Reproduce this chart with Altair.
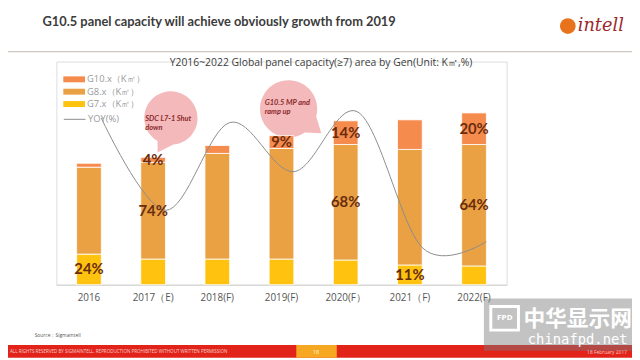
import altair as alt
import pandas as pd

# ---------------- data ----------------
years = ["2016", "2017（E)", "2018(F)", "2019(F)", "2020(F）", "2021（F)", "2022(F)"]
g7_values = [31, 26, 26, 26, 25, 20, 19]
g8_values = [88, 98, 107, 112, 117, 117, 123]
g10_values = [4, 5, 8, 13, 24, 30, 32]
yoy_values = [9.2, 3.0, 8.9, 5.6, 9.6, 0.5, 0.9]

series_names = ["G10.x（K㎡）", "G8.x（K㎡）", "G7.x（K㎡）"]
series_colors = ["#F68B4E", "#E9A143", "#FFC20F"]

label_years = ["2016", "2017（E)", "2017（E)", "2019(F)", "2020(F）", "2020(F）", "2021（F)", "2022(F)", "2022(F)"]
label_series = ["G7.x（K㎡）", "G10.x（K㎡）", "G8.x（K㎡）", "G10.x（K㎡）", "G10.x（K㎡）",
                "G8.x（K㎡）", "G7.x（K㎡）", "G10.x（K㎡）", "G8.x（K㎡）"]
label_texts = ["24%", "4%", "74%", "9%", "14%", "68%", "11%", "20%", "64%"]

# ---------------- tables ----------------
rows = []
mids = {}
for i, yr in enumerate(years):
    base = 0
    for order, (name, vals) in enumerate([(series_names[2], g7_values),
                                          (series_names[1], g8_values),
                                          (series_names[0], g10_values)]):
        v = vals[i]
        rows.append({"year": yr, "series": name, "value": v, "ord": order})
        mids[(yr, name)] = base + v / 2
        base += v
bars_df = pd.DataFrame(rows)

labels_df = pd.DataFrame({
    "year": label_years,
    "series": label_series,
    "text": label_texts,
})
labels_df["mid"] = [mids[(y, s)] for y, s in zip(label_years, label_series)]

yoy_df = pd.DataFrame({"year": years, "yoy": yoy_values, "s": ["YOY(%)"] * len(years)})

Y_DOMAIN = [0, 226]
PAD_INNER = 0.615
xscale = alt.Scale(domain=years, paddingInner=PAD_INNER, paddingOuter=0.315)
xenc = alt.X("year:N", scale=xscale, sort=years, title=None,
             axis=alt.Axis(labelAngle=0, ticks=False, domainColor="#d0d0d0",
                           labelFont="Open Sans", labelFontSize=10, labelColor="#555",
                           labelPadding=8, grid=False))

bars = alt.Chart(bars_df).mark_bar(stroke="white", strokeWidth=0.8).encode(
    x=xenc,
    y=alt.Y("value:Q", stack="zero", scale=alt.Scale(domain=Y_DOMAIN), axis=None),
    fill=alt.Fill("series:N", scale=alt.Scale(domain=series_names, range=series_colors),
                  legend=alt.Legend(orient="none", legendX=12, legendY=12, title=None,
                                    symbolType="M-1.83,-0.5H1.83V0.5H-1.83Z", symbolSize=144,
                                    symbolStrokeWidth=0, labelFontSize=9.5, labelColor="#9a9a9a",
                                    labelFont="Open Sans", labelOffset=7, rowPadding=1.5,
                                    padding=0)),
    order=alt.Order("ord:Q"),
)

labels = alt.Chart(labels_df).mark_text(font="Lato", fontSize=15, fontWeight="bold",
                                        color="#6A2C0E").encode(
    x=alt.X("year:N", scale=xscale, sort=years),
    y=alt.Y("mid:Q", scale=alt.Scale(domain=Y_DOMAIN), axis=None),
    text="text:N",
)

# half of the band width (step 65 * (1 - paddingInner)) so the line runs through bar centres
line = alt.Chart(yoy_df).mark_line(interpolate="cardinal", strokeWidth=1,
                                   xOffset=65 * (1 - PAD_INNER) / 2).encode(
    x=alt.X("year:N", scale=xscale, sort=years),
    y=alt.Y("yoy:Q", scale=alt.Scale(domain=[-2, 13]), axis=None),
    stroke=alt.Stroke("s:N", scale=alt.Scale(domain=["YOY(%)"], range=["#8c8c8c"]),
                      legend=alt.Legend(orient="none", legendX=12, legendY=52, title=None,
                                        symbolType="M-1.83,0H1.83", symbolSize=144,
                                        symbolStrokeWidth=1, labelFontSize=9.5,
                                        labelColor="#9a9a9a", labelFont="Open Sans",
                                        labelOffset=7, padding=0)),
)

one = pd.DataFrame({"k": [0]})


def deco_text(text, x, y, **kw):
    return alt.Chart(one).mark_text(text=text, **kw).encode(x=alt.value(x), y=alt.value(y))


def deco_rect(x, x2, y, y2, **kw):
    return alt.Chart(one).mark_rect(**kw).encode(
        x=alt.value(x), x2=alt.value(x2), y=alt.value(y), y2=alt.value(y2))


# page coords -> plot coords: x - 57, y - 60
bubble1 = alt.Chart(one).mark_point(
    shape="M0.09,1 A1,1 0 1,0 -0.5,0.87 L-0.5,1.3 Z", size=2916, filled=True,
    color="#F0A8AA", opacity=0.8, strokeWidth=0).encode(x=alt.value(116), y=alt.value(57))
bubble2 = alt.Chart(one).mark_point(
    shape="M0.97,0.26 A1,1 0 1,0 0.57,0.82 L1.15,0.85 Z", size=3364, filled=True,
    color="#F0A8AA", opacity=0.8, strokeWidth=0).encode(x=alt.value(235), y=alt.value(48))

bub_kw = dict(font="Lato", fontSize=7.5, fontWeight="bold", fontStyle="italic",
              color="#8C2A2A", align="left", baseline="middle")
bubble_texts = [
    deco_text("SDC L7-1 Shut", 90, 58, **bub_kw),
    deco_text("down", 90, 67, **bub_kw),
    deco_text("G10.5 MP and", 211, 42, **bub_kw),
    deco_text("ramp up", 211, 51, **bub_kw),
]

header = deco_text("G10.5 panel capacity will achieve obviously growth from 2019", -14, -40,
                   font="Lato", fontSize=13, fontWeight="bold", color="#3c3c3c",
                   align="left", baseline="middle")
header_rule = alt.Chart(one).mark_rule(color="#c4bab0", strokeWidth=1).encode(
    x=alt.value(-49), x2=alt.value(583), y=alt.value(-10))
logo_dot = alt.Chart(one).mark_point(shape="circle", size=256, filled=True,
                                     color="#E8731C", opacity=1).encode(
    x=alt.value(518), y=alt.value(-36))
logo_text = deco_text("intell", 528, -36, font="DejaVu Serif", fontSize=18,
                      fontStyle="italic", color="#9B2A2A", align="left", baseline="middle")
chart_title = deco_text("Y2016~2022 Global panel capacity(≥7) area by Gen(Unit: K㎡,%)", 268, 1,
                        font="Open Sans", fontSize=10.5, color="#3c3c3c",
                        align="center", baseline="middle")
source = deco_text("Source：Sigmaintell", -22, 277, font="Open Sans", fontSize=5,
                   color="#555", align="left", baseline="middle")

footer = deco_rect(-49, 583, 287, 300, color="#E2231A")
footer_tab = deco_rect(243, 284, 287, 300, color="#F7A823")
footer_txt = deco_text("ALL RIGHTS RESERVED BY SIGMAINTELL. REPRODUCTION PROHIBITED WITHOUT WRITTEN PERMISSION",
                       -47, 294, font="Open Sans", fontSize=4.6, color="#f6d0cc",
                       align="left", baseline="middle")
footer_num = deco_text("18", 263, 294, font="Open Sans", fontSize=5.5, color="#fff3dd",
                       align="center", baseline="middle")
footer_date = deco_text("18 February 2017", 578, 294, font="Open Sans", fontSize=5,
                        color="#f6d0cc", align="right", baseline="middle")

wm_box = deco_rect(433, 583, 240, 293, color="#7a7a7a", opacity=0.45)
wm_icon = deco_rect(440, 468, 248, 272, fill="transparent", stroke="white", strokeWidth=3)
wm_fpd = deco_text("FPD", 454, 260, font="DejaVu Sans", fontSize=7, fontWeight="bold",
                   color="white", align="center", baseline="middle")
wm_cn = deco_text("中华显示网", 528, 261, font="Noto Sans CJK SC", fontSize=22,
                  fontWeight="bold", color="white", align="center", baseline="middle")
wm_en = deco_text("chinafpd.net", 528, 282, font="DejaVu Sans Mono", fontSize=14,
                  color="white", align="center", baseline="middle")

chart = alt.layer(
    bubble1, bubble2, bars, line, labels, *bubble_texts,
    header, header_rule, logo_dot, logo_text, chart_title, source,
    footer, footer_tab, footer_txt, footer_num, footer_date,
    wm_box, wm_icon, wm_fpd, wm_cn, wm_en,
).resolve_scale(y="independent").properties(
    width=456, height=226,
    padding={"left": 49, "top": 52, "right": 127, "bottom": 74},
    autosize=alt.AutoSizeParams(type="none"),
).configure_view(stroke=None).configure(background="white")

chart.save("out.html", embed_options={"renderer": "svg", "actions": False})
